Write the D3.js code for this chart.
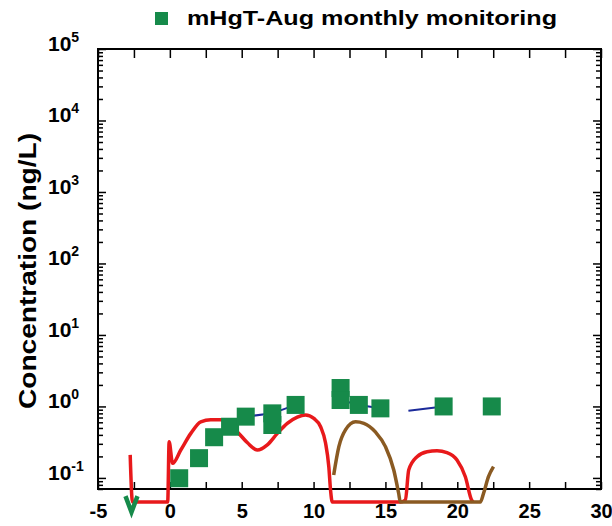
<!DOCTYPE html>
<html><head><meta charset="utf-8">
<script src="https://cdn.jsdelivr.net/npm/d3@7"></script>
<style>
body{margin:0;background:#fff}
svg{display:block}
text{font-family:"Liberation Sans",Arial,Helvetica,sans-serif;font-weight:bold;fill:#000}
</style>
</head><body>
<svg id="c" width="612" height="526"></svg>
<script>
// ---- data ----
const legendLabel = "mHgT-Aug monthly monitoring";
const yTitle = "Concentration (ng/L)";
const xTickValues = [-5,-2.5,0,2.5,5,7.5,10,12.5,15,17.5,20,22.5,25,27.5,30];
const xTickLabels = [-5,0,5,10,15,20,25,30];
const yMajorTicks = [0.1,1,10,100,1000,10000,100000];
const yExponents = ["-1","0","1","2","3","4","5"];

// monthly monitoring (squares)
const monX = [0.65,2.03,3.08,4.19,5.28,7.13,7.13,8.75,11.88,11.88,13.15,14.65,19.05,22.4];
const monY = [0.099,0.189,0.371,0.52,0.72,0.80,0.55,1.05,1.81,1.23,1.05,0.94,1.0,1.0];

// blue line segments
const blueX1 = [5.28,7.13,8.75], blueY1 = [0.72,0.80,1.05];
const blueX2 = [11.88,13.15,14.65], blueY2 = [1.23,1.05,0.94];
const blueX3 = [16.6,19.05], blueY3 = [0.87,1.0];

// red model
const redX = [-2.76,-2.6,-0.15,-0.05,0.19,0.76,1.46,2.15,2.85,3.54,4.0,4.7,5.4,6.09,6.78,7.48,8.17,8.87,9.44,10.02,10.49,10.83,11.06,11.18,11.3,16.0,16.39,16.62,17.2,17.9,18.59,19.28,19.98,20.56,21.0,21.1];
const redY = [0.21,0.046,0.046,0.32,0.16,0.246,0.42,0.61,0.65,0.65,0.58,0.44,0.31,0.246,0.29,0.42,0.58,0.71,0.76,0.68,0.52,0.31,0.144,0.068,0.046,0.046,0.049,0.129,0.198,0.233,0.24,0.226,0.178,0.104,0.049,0.046];

// brown model
const brownX = [11.4,11.76,12.22,12.92,13.5,14.3,15.0,15.58,15.92,16.04,21.6,21.83,22.17,22.52];
const brownY = [0.11,0.274,0.47,0.61,0.58,0.44,0.274,0.129,0.061,0.046,0.046,0.061,0.104,0.144];

// non-detect marker
const ndX = [-2.67], ndY = [0.043];

// ---- drawing ----
const svg = d3.select("#c");
const L = 98, R = 601, T = 49, B = 489;
const x = d3.scaleLinear().domain([-5,30]).range([L,R]);
const y = d3.scaleLog().domain([0.07,1e5]).range([B,T]);

const zip = (a,b) => a.map((v,i)=>[v,b[i]]);
const line = d3.line().x(d=>x(d[0])).y(d=>y(d[1]));
const smooth = d3.line().x(d=>x(d[0])).y(d=>y(d[1])).curve(d3.curveMonotoneX);

// y ticks (log: majors + minors)
const yAll = [];
for (let e=-2;e<=4;e++) for (let m=1;m<=9;m++){const v=m*Math.pow(10,e); if(v>=0.07 && v<=1e5) yAll.push(v);}
yAll.push(1e5);
const isMajor = v => yMajorTicks.some(m=>Math.abs(m-v)/m<1e-9);

const axL = svg.append("g").attr("transform",`translate(${L},0)`)
  .call(d3.axisLeft(y).tickValues(yAll).tickFormat("").tickSizeOuter(0));
axL.select(".domain").remove();
axL.selectAll(".tick line").attr("x2",d=>isMajor(d)?8:5).attr("stroke","#000").attr("stroke-width",1.5);

const axR = svg.append("g").attr("transform",`translate(${R},0)`)
  .call(d3.axisRight(y).tickValues(yAll).tickFormat("").tickSizeOuter(0));
axR.select(".domain").remove();
axR.selectAll(".tick line").attr("x2",d=>isMajor(d)?-8:-5).attr("stroke","#000").attr("stroke-width",1.5);

const axB = svg.append("g").attr("transform",`translate(0,${B})`)
  .call(d3.axisBottom(x).tickValues(xTickValues).tickSizeInner(-7).tickSizeOuter(0)
  .tickFormat(d=>xTickLabels.includes(d)?String(d):""));
axB.select(".domain").remove();
axB.selectAll(".tick line").attr("stroke","#000").attr("stroke-width",1.5);
axB.selectAll(".tick text").attr("y",null).attr("dy",null).attr("transform","translate(0,29)")
  .style("font-size","20px").style("font-family","'Liberation Sans',Arial,sans-serif").style("font-weight","bold").attr("fill","#000");

const axT = svg.append("g").attr("transform",`translate(0,${T})`)
  .call(d3.axisTop(x).tickValues(xTickValues).tickSizeInner(-9).tickSizeOuter(0).tickFormat(""));
axT.select(".domain").remove();
axT.selectAll(".tick line").attr("stroke","#000").attr("stroke-width",1.5);

// y tick labels with superscripts
const yl = svg.append("g").selectAll("text").data(yMajorTicks).join("text")
  .attr("x",48).attr("y",d=>y(d)+2).style("font-size","21px");
yl.append("tspan").text("10");
yl.append("tspan").attr("dy",-9).style("font-size","14px").text((d,i)=>yExponents[i]);

// frame
svg.append("rect").attr("x",L).attr("y",T).attr("width",R-L).attr("height",B-T)
  .attr("fill","none").attr("stroke","#000").attr("stroke-width",2);

// lines
svg.append("path").attr("d",smooth(zip(redX,redY))).attr("fill","none")
  .attr("stroke","#e8191b").attr("stroke-width",3.5).attr("stroke-linejoin","round");
svg.append("path").attr("d",smooth(zip(brownX,brownY))).attr("fill","none")
  .attr("stroke","#8a5a22").attr("stroke-width",3.5).attr("stroke-linejoin","round");
[[blueX1,blueY1],[blueX2,blueY2],[blueX3,blueY3]].forEach(([a,b])=>{
  svg.append("path").attr("d",line(zip(a,b))).attr("fill","none")
    .attr("stroke","#1b2a9a").attr("stroke-width",2);
});

// squares
const S = 18;
svg.append("g").selectAll("rect").data(zip(monX,monY)).join("rect")
  .attr("x",d=>x(d[0])-S/2).attr("y",d=>y(d[1])-S/2).attr("width",S).attr("height",S)
  .attr("fill","#168a4a");

// non-detect V marker
svg.append("g").selectAll("path").data(zip(ndX,ndY)).join("path")
  .attr("d",d=>{const cx=x(d[0]),cy=y(d[1]);return `M${cx-6},${cy-8}L${cx},${cy+8}L${cx+6},${cy-8}`;})
  .attr("fill","none").attr("stroke","#168a4a").attr("stroke-width",4.5);

// legend
svg.append("rect").attr("x",155).attr("y",12).attr("width",13).attr("height",13).attr("fill","#168a4a");
svg.append("text").attr("x",187).attr("y",25).style("font-size","21px")
  .attr("textLength",370).attr("lengthAdjust","spacingAndGlyphs").text(legendLabel);

// y title
svg.append("text").attr("transform","translate(36,271) rotate(-90)").attr("text-anchor","middle")
  .style("font-size","24px").attr("textLength",276).attr("lengthAdjust","spacingAndGlyphs").text(yTitle);
</script>
</body></html>
